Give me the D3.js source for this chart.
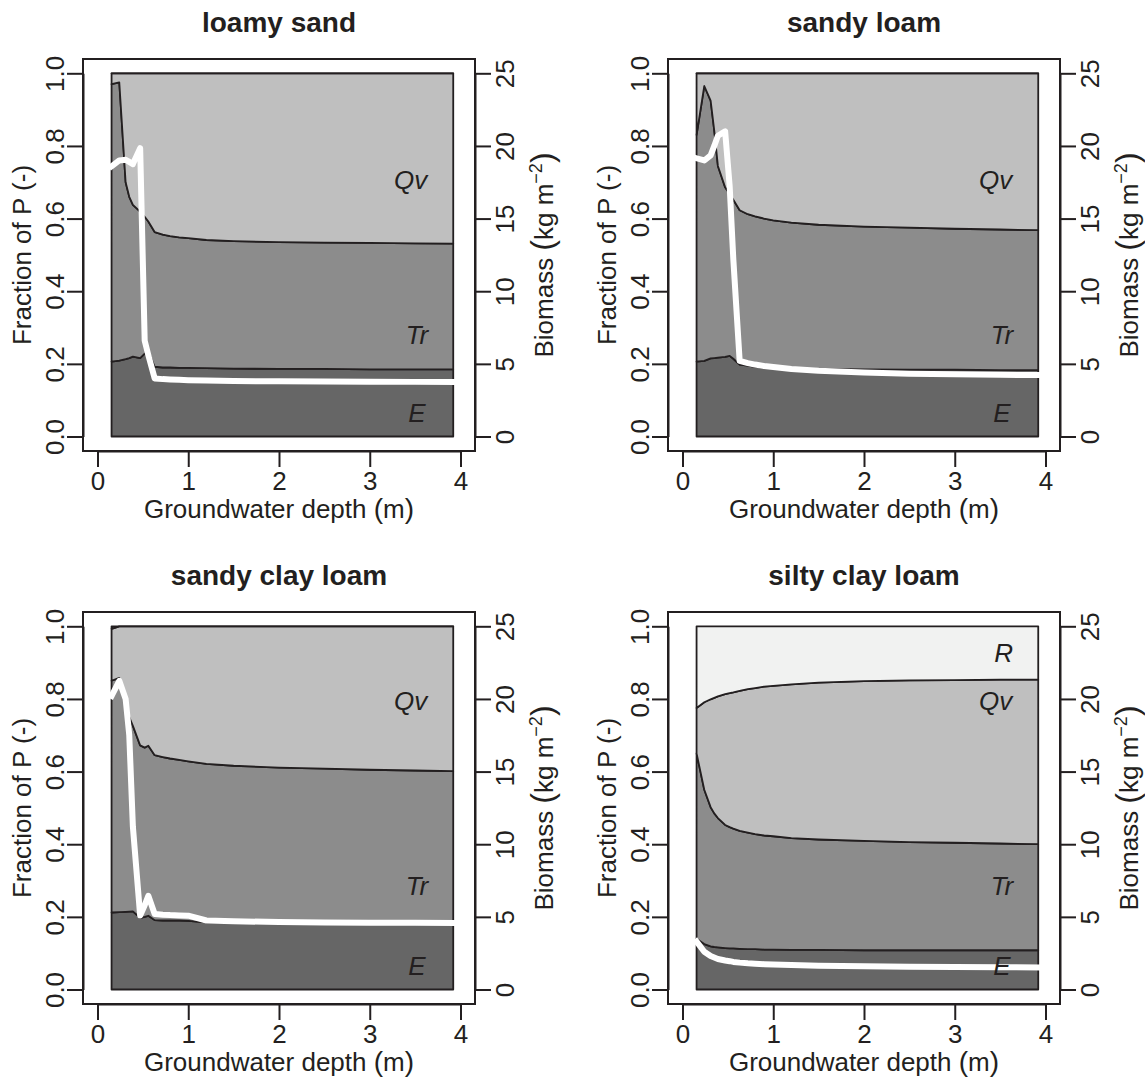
<!DOCTYPE html>
<html>
<head>
<meta charset="utf-8">
<script src="https://cdn.jsdelivr.net/npm/d3@7"></script>
<style>
  body { margin: 0; background: #fff; }
  text { font-family: "Liberation Sans", Arial, sans-serif; fill: #231f20; }
</style>
</head>
<body>
<script>
// groundwater depth (m) of the model runs
var depth = [0.155, 0.24, 0.31, 0.35, 0.39, 0.47, 0.52, 0.56, 0.63, 0.72, 0.8, 0.9, 1.0, 1.2, 1.5, 2.0, 2.5, 3.0, 3.5, 3.92];

// cumulative fractions of P : top of E, top of Tr, top of Qv ; biomass in kg m-2
var lsE   = [0.206, 0.209, 0.213, 0.216, 0.220, 0.216, 0.228, 0.235, 0.192, 0.190, 0.190, 0.189, 0.189, 0.188, 0.187, 0.186, 0.186, 0.185, 0.185, 0.185];
var lsTr  = [0.970, 0.975, 0.700, 0.660, 0.638, 0.619, 0.605, 0.592, 0.563, 0.556, 0.552, 0.548, 0.546, 0.541, 0.538, 0.535, 0.534, 0.533, 0.532, 0.531];
var lsQv  = [1, 1, 1, 1, 1, 1, 1, 1, 1, 1, 1, 1, 1, 1, 1, 1, 1, 1, 1, 1];
var lsBio = [18.6, 19.0, 19.05, 18.9, 18.75, 19.85, 6.6, 5.6, 4.0, 3.95, 3.93, 3.9, 3.88, 3.85, 3.82, 3.8, 3.78, 3.77, 3.76, 3.75];

var slE   = [0.206, 0.208, 0.215, 0.216, 0.217, 0.219, 0.222, 0.214, 0.198, 0.195, 0.192, 0.190, 0.188, 0.187, 0.186, 0.185, 0.184, 0.184, 0.183, 0.183];
var slTr  = [0.830, 0.965, 0.925, 0.842, 0.745, 0.686, 0.668, 0.652, 0.623, 0.612, 0.606, 0.600, 0.595, 0.589, 0.583, 0.578, 0.575, 0.572, 0.570, 0.568];
var slQv  = [1, 1, 1, 1, 1, 1, 1, 1, 1, 1, 1, 1, 1, 1, 1, 1, 1, 1, 1, 1];
var slBio = [19.15, 19.0, 19.35, 20.0, 20.7, 21.0, 17.2, 12.2, 5.2, 5.05, 4.95, 4.85, 4.78, 4.65, 4.52, 4.4, 4.32, 4.28, 4.25, 4.23];

var sclE   = [0.212, 0.213, 0.214, 0.2145, 0.215, 0.197, 0.200, 0.203, 0.191, 0.190, 0.190, 0.190, 0.189, 0.185, 0.184, 0.183, 0.183, 0.182, 0.182, 0.182];
var sclTr  = [0.850, 0.858, 0.790, 0.750, 0.726, 0.672, 0.666, 0.671, 0.645, 0.640, 0.636, 0.632, 0.628, 0.621, 0.616, 0.611, 0.608, 0.605, 0.603, 0.601];
var sclQv  = [0.993, 1, 1, 1, 1, 1, 1, 1, 1, 1, 1, 1, 1, 1, 1, 1, 1, 1, 1, 1];
var sclBio = [20.2, 21.25, 20.0, 17.5, 11.2, 5.1, 5.8, 6.45, 5.2, 5.15, 5.12, 5.1, 5.08, 4.75, 4.7, 4.64, 4.62, 4.6, 4.59, 4.58];

var siE   = [0.140, 0.125, 0.119, 0.117, 0.116, 0.114, 0.113, 0.113, 0.112, 0.111, 0.111, 0.110, 0.110, 0.109, 0.109, 0.108, 0.108, 0.108, 0.108, 0.108];
var siTr  = [0.650, 0.550, 0.502, 0.485, 0.472, 0.453, 0.447, 0.443, 0.437, 0.432, 0.428, 0.424, 0.422, 0.417, 0.413, 0.409, 0.406, 0.404, 0.402, 0.400];
var siQv  = [0.775, 0.791, 0.799, 0.803, 0.807, 0.813, 0.816, 0.818, 0.822, 0.827, 0.830, 0.834, 0.836, 0.840, 0.845, 0.849, 0.851, 0.852, 0.853, 0.853];
var siBio = [3.3, 2.6, 2.3, 2.2, 2.1, 2.0, 1.95, 1.9, 1.85, 1.8, 1.77, 1.74, 1.72, 1.68, 1.64, 1.6, 1.57, 1.55, 1.53, 1.52];

var titles = ['loamy sand', 'sandy loam', 'sandy clay loam', 'silty clay loam'];
var fracTicks = [0, 0.2, 0.4, 0.6, 0.8, 1.0];
var bioTicks = [0, 5, 10, 15, 20, 25];
var depthTicks = [0, 1, 2, 3, 4];

// flux labels: name, depth, fraction
var labels = [
  [['Qv', 3.45, 0.706], ['Tr', 3.52, 0.28], ['E', 3.52, 0.065]],
  [['Qv', 3.45, 0.706], ['Tr', 3.52, 0.28], ['E', 3.52, 0.065]],
  [['Qv', 3.45, 0.794], ['Tr', 3.52, 0.285], ['E', 3.52, 0.065]],
  [['R', 3.54, 0.927], ['Qv', 3.45, 0.794], ['Tr', 3.52, 0.285], ['E', 3.52, 0.065]]
];

var panels = [
  { e: lsE, tr: lsTr, qv: lsQv, bio: lsBio },
  { e: slE, tr: slTr, qv: slQv, bio: slBio },
  { e: sclE, tr: sclTr, qv: sclQv, bio: sclBio },
  { e: siE, tr: siTr, qv: siQv, bio: siBio }
];

var w = 1145, h = 1077;
var ink = '#231f20';
var dx = [0, 585], dy = [0, 553];

var svg = d3.select('body').append('svg')
  .attr('width', w)
  .attr('height', h);

svg.append('rect').attr('width', w).attr('height', h).attr('fill', '#fff');

var zeros = depth.map(function () { return 0; });
var ones = depth.map(function () { return 1; });

panels.forEach(function (p, i) {
  var g = svg.append('g')
    .attr('transform', 'translate(' + dx[i % 2] + ',' + dy[Math.floor(i / 2)] + ')');

  var x = d3.scaleLinear().domain([0, 4]).range([97.5, 460.5]);
  var y = d3.scaleLinear().domain([0, 1]).range([436.5, 73.3]);
  var yB = d3.scaleLinear().domain([0, 25]).range([436.5, 73.3]);

  var bands = [
    { lo: zeros, hi: p.e, fill: '#666666' },
    { lo: p.e, hi: p.tr, fill: '#8c8c8c' },
    { lo: p.tr, hi: p.qv, fill: '#bfbfbf' },
    { lo: p.qv, hi: ones, fill: '#f1f2f1' }
  ];

  bands.forEach(function (b) {
    var area = d3.area()
      .x(function (j) { return x(depth[j]); })
      .y0(function (j) { return y(b.lo[j]); })
      .y1(function (j) { return y(b.hi[j]); });
    g.append('path')
      .datum(d3.range(depth.length))
      .attr('d', area)
      .attr('fill', b.fill)
      .attr('stroke', ink)
      .attr('stroke-width', 1.8)
      .attr('stroke-linejoin', 'round');
  });

  // biomass
  var line = d3.line()
    .x(function (j) { return x(depth[j]); })
    .y(function (j) { return yB(p.bio[j]); });
  g.append('path')
    .datum(d3.range(depth.length))
    .attr('d', line)
    .attr('fill', 'none')
    .attr('stroke', '#fff')
    .attr('stroke-width', 6)
    .attr('stroke-linejoin', 'round')
    .attr('stroke-linecap', 'square');

  labels[i].forEach(function (l) {
    g.append('text')
      .attr('x', x(l[1]))
      .attr('y', y(l[2]))
      .attr('dy', '0.35em')
      .attr('text-anchor', 'middle')
      .attr('font-size', 26)
      .attr('font-style', 'italic')
      .text(l[0]);
  });

  // box
  g.append('rect')
    .attr('x', 83).attr('y', 59)
    .attr('width', 392).attr('height', 392)
    .attr('fill', 'none')
    .attr('stroke', ink)
    .attr('stroke-width', 2);

  var xAxis = d3.axisBottom(x).tickValues(depthTicks).tickFormat(d3.format('d')).tickSize(16).tickSizeOuter(0);
  var yAxis = d3.axisLeft(y).tickValues(fracTicks).tickFormat(d3.format('.1f')).tickSize(16).tickSizeOuter(0);
  var bAxis = d3.axisRight(yB).tickValues(bioTicks).tickFormat(d3.format('d')).tickSize(16).tickSizeOuter(0);

  var gx = g.append('g').attr('transform', 'translate(0,451)').call(xAxis);
  gx.selectAll('text').attr('y', 38.5).attr('dy', 0);

  var gy = g.append('g').attr('transform', 'translate(83,0)').call(yAxis);
  gy.selectAll('text')
    .attr('x', 0).attr('dy', 0)
    .attr('text-anchor', 'middle')
    .attr('transform', 'translate(-19,0) rotate(-90)');

  var gb = g.append('g').attr('transform', 'translate(475,0)').call(bAxis);
  gb.selectAll('text')
    .attr('x', 0).attr('dy', 0)
    .attr('text-anchor', 'middle')
    .attr('transform', 'translate(38.6,0) rotate(-90)');

  g.selectAll('.domain, .tick line').attr('stroke', ink).attr('stroke-width', 2);
  g.selectAll('.tick text').attr('font-size', 26).attr('font-family', null).attr('fill', ink);

  g.append('text')
    .attr('x', 279).attr('y', 32)
    .attr('text-anchor', 'middle')
    .attr('font-size', 28)
    .attr('font-weight', 'bold')
    .text(titles[i]);

  var xl = g.append('text')
    .attr('x', 279).attr('y', 518)
    .attr('text-anchor', 'middle')
    .attr('font-size', 26);
  xl.append('tspan').text('Groundwater depth ');
  xl.append('tspan').attr('font-size', 28).text('(');
  xl.append('tspan').text('m');
  xl.append('tspan').attr('font-size', 28).text(')');

  g.append('text')
    .attr('transform', 'translate(31,255) rotate(-90)')
    .attr('text-anchor', 'middle')
    .attr('font-size', 26)
    .text('Fraction of P (-)');

  var bl = g.append('text')
    .attr('transform', 'translate(553,255) rotate(-90)')
    .attr('text-anchor', 'middle')
    .attr('font-size', 26);
  bl.append('tspan').text('Biomass ');
  bl.append('tspan').attr('font-size', 32).text('(');
  bl.append('tspan').text('kg m');
  bl.append('tspan').attr('font-size', 18).attr('dy', -11).text('\u22122');
  bl.append('tspan').attr('font-size', 32).attr('dy', 11).text(')');
});
</script>
</body>
</html>
